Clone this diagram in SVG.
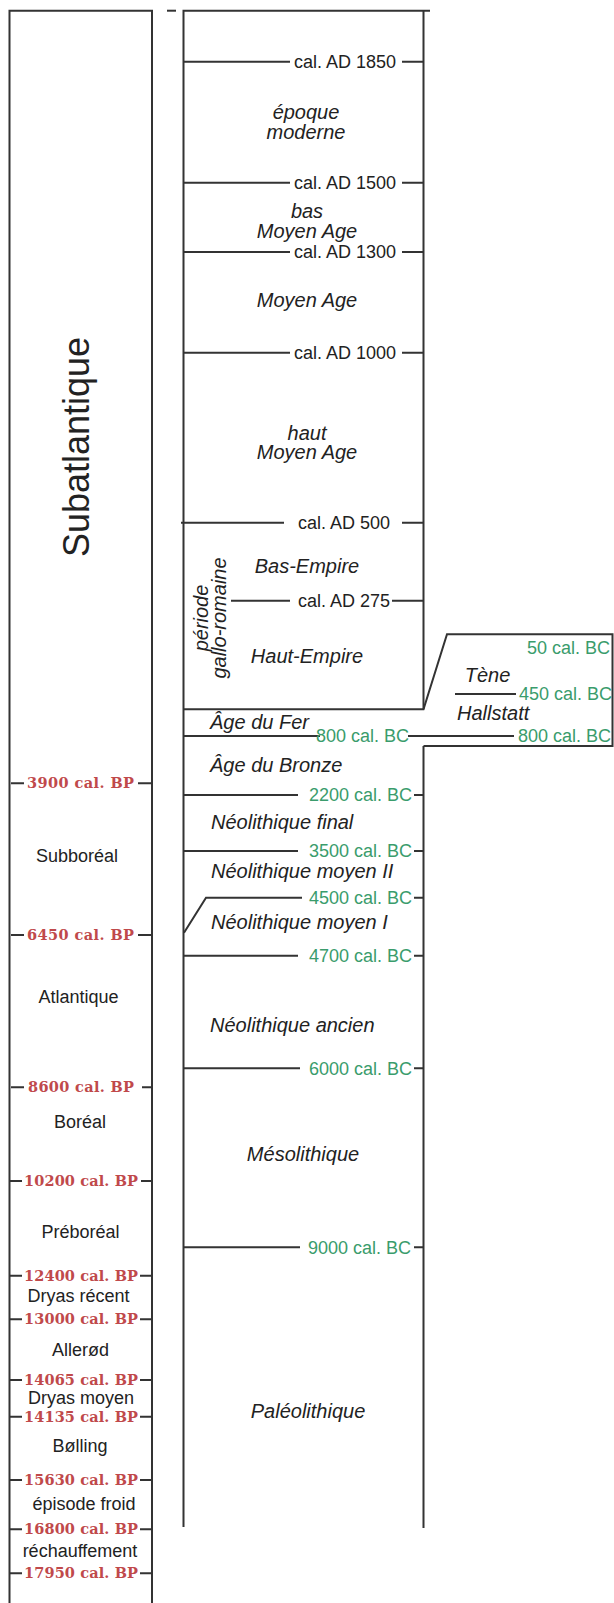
<svg xmlns="http://www.w3.org/2000/svg" width="614" height="1603" viewBox="0 0 614 1603">
<style>
.ln{stroke:#333;stroke-width:2;fill:none}
.cal{font-family:"Liberation Sans",Arial,sans-serif;font-size:18px;fill:#222;text-anchor:end}
.bc{font-family:"Liberation Sans",Arial,sans-serif;font-size:18px;fill:#3a9c6c;text-anchor:end}
.it{font-family:"Liberation Sans",Arial,sans-serif;font-size:20px;font-style:italic;fill:#222}
.itc{font-family:"Liberation Sans",Arial,sans-serif;font-size:20px;font-style:italic;fill:#222;text-anchor:middle}
.cl{font-family:"Liberation Sans",Arial,sans-serif;font-size:18px;fill:#222;text-anchor:middle}
.bp{font-family:"DejaVu Serif","Liberation Serif",serif;font-size:14.5px;font-weight:bold;fill:#c0494b}
</style>
<rect width="614" height="1603" fill="#fff"/>
<g id="connectors">
<path class="ln" d="M9.5 1603V10.7H153"/>
<path class="ln" d="M152 10.7V1603"/>
<path class="ln" d="M167 10.7H176"/>
<path class="ln" d="M183.5 1527V10.7H430"/>
<path class="ln" d="M423.5 10.7V709.3"/>
<path class="ln" d="M423.5 746V1528"/>
<path class="ln" d="M183.5 709.3H423.5L447 634.3H612.5V746H423.5"/>
<path class="ln" d="M183.5 61.7H290M402 61.7H423.5"/>
<path class="ln" d="M183.5 182.7H290M402 182.7H423.5"/>
<path class="ln" d="M183.5 252H290M402 252H423.5"/>
<path class="ln" d="M183.5 352.7H290M402 352.7H423.5"/>
<path class="ln" d="M181 522.7H284M402 522.7H423.5"/>
<path class="ln" d="M231 600.7H290M392 600.7H423.5"/>
<path class="ln" d="M455 694H516"/>
<path class="ln" d="M183.5 736H320M408 736H514"/>
<path class="ln" d="M183.5 795H298M414 795H423.5"/>
<path class="ln" d="M183.5 851H298M414 851H423.5"/>
<path class="ln" d="M184 932.7L206 897.7H302M414 897.7H423.5"/>
<path class="ln" d="M183.5 955.7H298M414 955.7H423.5"/>
<path class="ln" d="M183.5 1068.3H300M414 1068.3H423.5"/>
<path class="ln" d="M183.5 1247.3H300M414 1247.3H423.5"/>
<path class="ln" d="M11 783.3H24M138 783.3H152"/>
<path class="ln" d="M11 935H24M138 935H152"/>
<path class="ln" d="M11 1087.3H24M142 1087.3H152"/>
<path class="ln" d="M10 1181H22M141 1181H152"/>
<path class="ln" d="M10 1275.7H22M140 1275.7H152"/>
<path class="ln" d="M10 1319.3H22M140 1319.3H152"/>
<path class="ln" d="M10 1380H22M140 1380H152"/>
<path class="ln" d="M10 1416.7H22M140 1416.7H152"/>
<path class="ln" d="M10 1480H22M140 1480H152"/>
<path class="ln" d="M10 1529.3H22M140 1529.3H152"/>
<path class="ln" d="M10 1573.3H22M140 1573.3H152"/>
</g>
<g id="subatlantique">
<text transform="translate(89,447) rotate(-90)" font-family="Liberation Sans, Arial, sans-serif" font-size="36" fill="#222" text-anchor="middle">Subatlantique</text>
</g>
<g id="climate-labels">
<text class="cl" x="77" y="861.7">Subboréal</text>
<text class="cl" x="78.5" y="1002.7">Atlantique</text>
<text class="cl" x="80" y="1128.3">Boréal</text>
<text class="cl" x="80.5" y="1238.3">Préboréal</text>
<text class="cl" x="78.5" y="1301.7">Dryas récent</text>
<text class="cl" x="80.5" y="1356">Allerød</text>
<text class="cl" x="81" y="1404">Dryas moyen</text>
<text class="cl" x="80" y="1451.7">Bølling</text>
<text class="cl" x="84" y="1510">épisode froid</text>
<text class="cl" x="80" y="1556.7">réchauffement</text>
</g>
<g id="bp-dates">
<text class="bp" x="27" y="788.3" textLength="107" lengthAdjust="spacing">3900 cal. BP</text>
<text class="bp" x="27" y="940" textLength="107" lengthAdjust="spacing">6450 cal. BP</text>
<text class="bp" x="28" y="1092.3" textLength="106" lengthAdjust="spacing">8600 cal. BP</text>
<text class="bp" x="24" y="1186" textLength="114" lengthAdjust="spacing">10200 cal. BP</text>
<text class="bp" x="24" y="1280.7" textLength="114" lengthAdjust="spacing">12400 cal. BP</text>
<text class="bp" x="24" y="1324.3" textLength="114" lengthAdjust="spacing">13000 cal. BP</text>
<text class="bp" x="24" y="1385" textLength="114" lengthAdjust="spacing">14065 cal. BP</text>
<text class="bp" x="24" y="1421.7" textLength="114" lengthAdjust="spacing">14135 cal. BP</text>
<text class="bp" x="24" y="1485" textLength="114" lengthAdjust="spacing">15630 cal. BP</text>
<text class="bp" x="24" y="1534.3" textLength="114" lengthAdjust="spacing">16800 cal. BP</text>
<text class="bp" x="24" y="1578.3" textLength="114" lengthAdjust="spacing">17950 cal. BP</text>
</g>
<g id="ad-dates">
<text class="cal" x="396" y="68">cal. AD 1850</text>
<text class="cal" x="396" y="189">cal. AD 1500</text>
<text class="cal" x="396" y="258.3">cal. AD 1300</text>
<text class="cal" x="396" y="359">cal. AD 1000</text>
<text class="cal" x="390" y="529">cal. AD 500</text>
<text class="cal" x="390" y="607">cal. AD 275</text>
</g>
<g id="bc-dates">
<text class="bc" x="610" y="654">50 cal. BC</text>
<text class="bc" x="612" y="700.4">450 cal. BC</text>
<text class="bc" x="409" y="742.4">800 cal. BC</text>
<text class="bc" x="611" y="742.4">800 cal. BC</text>
<text class="bc" x="412" y="801.4">2200 cal. BC</text>
<text class="bc" x="412" y="857.4">3500 cal. BC</text>
<text class="bc" x="412" y="904.1">4500 cal. BC</text>
<text class="bc" x="412" y="962.1">4700 cal. BC</text>
<text class="bc" x="412" y="1074.7">6000 cal. BC</text>
<text class="bc" x="411" y="1253.7">9000 cal. BC</text>
</g>
<g id="periods">
<text class="itc" x="306" y="119.3">époque</text>
<text class="itc" x="306" y="139.3">moderne</text>
<text class="itc" x="307" y="218.3">bas</text>
<text class="itc" x="307" y="237.7">Moyen Age</text>
<text class="itc" x="307" y="307.3">Moyen Age</text>
<text class="itc" x="307" y="440">haut</text>
<text class="itc" x="307" y="459.3">Moyen Age</text>
<text class="itc" x="307" y="572.7">Bas-Empire</text>
<text class="itc" x="307" y="663.3">Haut-Empire</text>
<text transform="translate(208,618) rotate(-90)" class="itc" font-size="19">période</text>
<text transform="translate(226,618) rotate(-90)" class="itc" font-size="19">gallo-romaine</text>
<text class="itc" x="487.5" y="681.7">Tène</text>
<text class="it" x="457" y="720">Hallstatt</text>
<text class="it" x="210" y="729.3">Âge du Fer</text>
<text class="it" x="210" y="771.7">Âge du Bronze</text>
<text class="it" x="211" y="829.3">Néolithique final</text>
<text class="it" x="211" y="878.3">Néolithique moyen II</text>
<text class="it" x="211" y="929.3">Néolithique moyen I</text>
<text class="it" x="210" y="1031.7">Néolithique ancien</text>
<text class="itc" x="303" y="1160.7">Mésolithique</text>
<text class="itc" x="308" y="1418.3">Paléolithique</text>
</g>
</svg>
